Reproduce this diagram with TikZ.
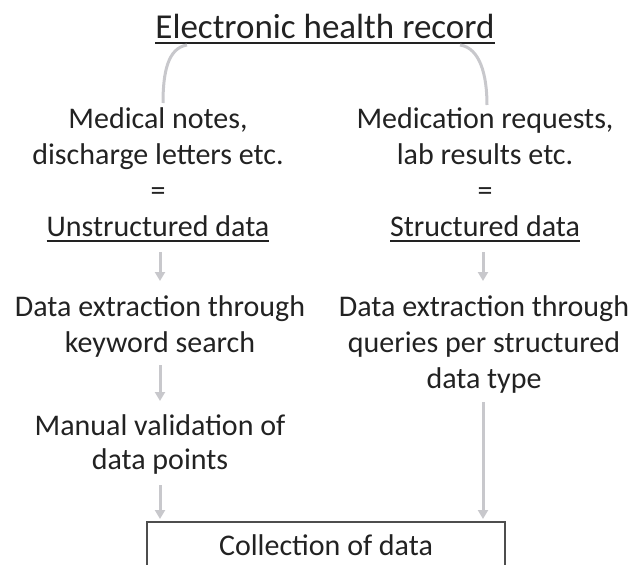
\documentclass[tikz,border=0pt]{standalone}
\usepackage{fontspec}
\setmainfont{Carlito}
\usetikzlibrary{arrows.meta}
\definecolor{txt}{HTML}{222222}
\definecolor{conn}{HTML}{C8C8CC}
\newcommand\myul[2]{\setbox0\hbox{#2}\rlap{\rule[-#1]{\wd0}{1.6pt}}\box0}
\tikzset{
  lbl/.style={text=txt, align=center, font=\fontsize{30pt}{36pt}\selectfont, inner sep=0pt},
  conn/.style={draw=conn, line width=3pt},
  flow/.style={conn, -{Triangle[width=10pt,length=9pt]}},
}
\begin{document}
\begin{tikzpicture}[x=1pt,y=-1pt]
\useasboundingbox (0,0) rectangle (635,565);
\node[lbl, anchor=base, font=\fontsize{35pt}{40pt}\selectfont] (title) at (325,38) {\myul{5.5pt}{Electronic health record}};
\node[lbl, anchor=base] (ln1) at (158,236) {Medical notes,\\discharge letters etc.\\=\\\myul{6pt}{Unstructured data}};
\node[lbl, anchor=base] (rn1) at (485,236) {Medication requests,\\lab results etc.\\=\\\myul{6pt}{Structured data}};
\node[lbl, anchor=base] (ln2) at (160,352) {Data extraction through\\keyword search};
\node[lbl, anchor=base] (rn2) at (484,388) {Data extraction through\\queries per structured\\data type};
\node[lbl, anchor=base, font=\fontsize{30pt}{34pt}\selectfont] (ln3) at (160,469) {Manual validation of\\data points};
\node[lbl, anchor=base] (coll) at (326,555) {Collection of data};
% curves
\coordinate (cl0) at (187,45);
\coordinate (cl1) at (163,103);
\coordinate (cr0) at (460,45);
\coordinate (cr1) at (487,105);
\draw[conn] (cl0) .. controls (168,48) and (163,72) .. (cl1);
\draw[conn] (cr0) .. controls (480,48) and (487,75) .. (cr1);
% arrows
\coordinate (a1s) at (160,252); \coordinate (a1e) at (160,281);
\coordinate (a2s) at (160,365); \coordinate (a2e) at (160,401);
\coordinate (a3s) at (160,485); \coordinate (a3e) at (160,519);
\coordinate (b1s) at (483,252); \coordinate (b1e) at (483,281);
\coordinate (b2s) at (483,402); \coordinate (b2e) at (483,519);
\draw[flow] (a1s) -- (a1e);
\draw[flow] (a2s) -- (a2e);
\draw[flow] (a3s) -- (a3e);
\draw[flow] (b1s) -- (b1e);
\draw[flow] (b2s) -- (b2e);
% box
\coordinate (bx1) at (147,566);
\coordinate (bx2) at (147,522);
\coordinate (bx3) at (505,522);
\coordinate (bx4) at (505,566);
\draw[draw=txt!80, line width=1.2pt] (bx1) -- (bx2) -- (bx3) -- (bx4);
\end{tikzpicture}
\end{document}
